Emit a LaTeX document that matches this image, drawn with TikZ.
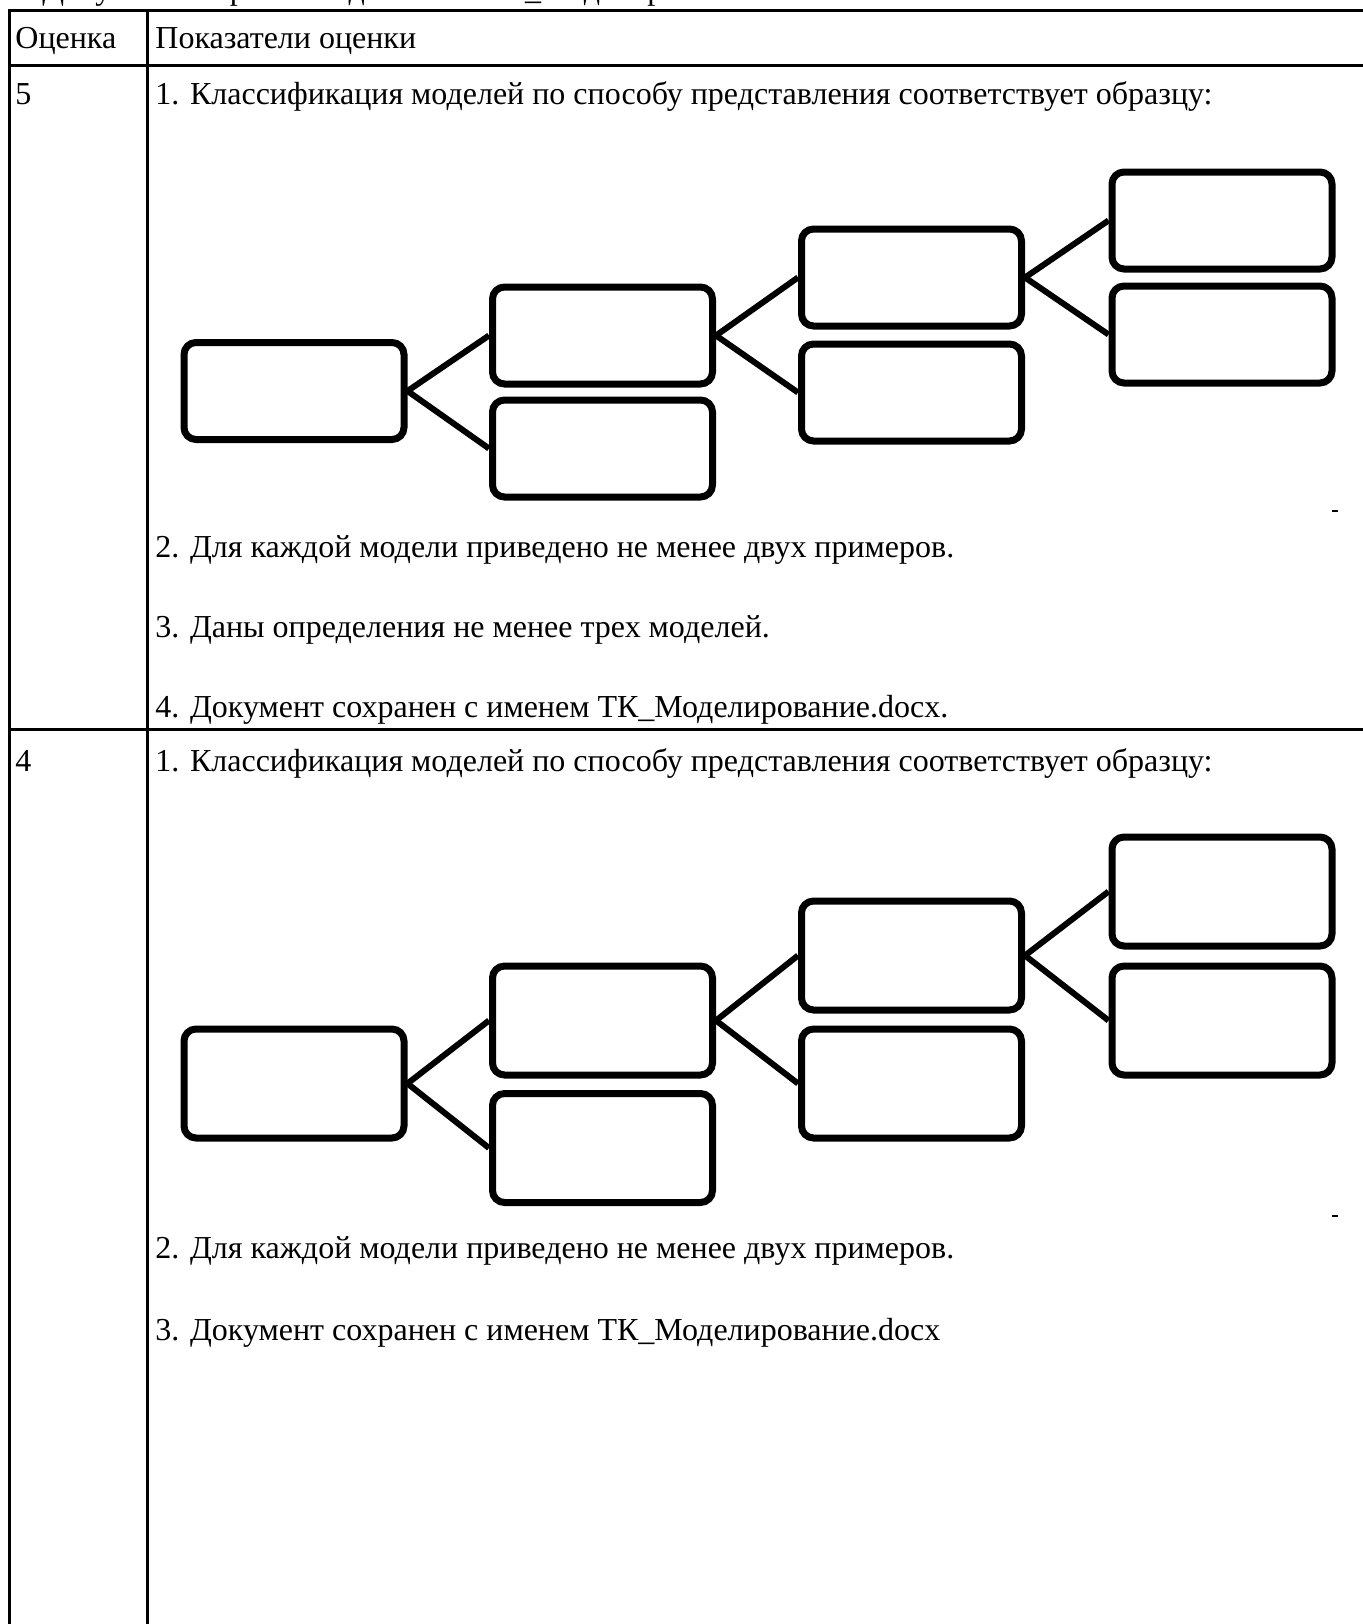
\documentclass[tikz,border=0pt]{standalone}
\usepackage{fontspec}
\setmainfont{Liberation Serif}
\begin{document}
\begin{tikzpicture}[x=0.5pt,y=-0.5pt,
  tline/.style={line width=1.5pt, line cap=rect},
  txt/.style={anchor=base west, inner sep=0pt, font=\fontsize{16pt}{19pt}\selectfont},
  mybox/.style={draw, line width=3.5pt, rounded corners=6pt, minimum width=110pt, minimum height=48.5pt, inner sep=0pt},
  mybox2/.style={mybox, minimum height=54.5pt},
  conn/.style={line width=3pt}]
\useasboundingbox (0,0) rectangle (1362,1624);
% clipped line above the table
\node[txt] (above) at (42,-1) {Документ сохранен под именем ТК\_Моделирование.docx};
% table rules
\coordinate (tl) at (9,10);
\coordinate (tr) at (1372,10);
\coordinate (hl) at (9,65);
\coordinate (hr) at (1372,65);
\coordinate (rl) at (9,729);
\coordinate (rr) at (1372,729);
\coordinate (bl) at (9,1634);
\coordinate (ct) at (147,10);
\coordinate (cb) at (147,1634);
\draw[tline] (tl) -- (tr);
\draw[tline] (hl) -- (hr);
\draw[tline] (rl) -- (rr);
\draw[tline] (tl) -- (bl);
\draw[tline] (ct) -- (cb);
% header
\node[txt] (h1) at (15,48) {Оценка};
\node[txt] (h2) at (155,48) {Показатели оценки};
% row 5
\node[txt] (g5) at (15,104) {5};
\node[txt] (a1) at (155,104) {1. Классификация моделей по способу представления соответствует образцу:};
\node[txt] (a2) at (155,557) {2. Для каждой модели приведено не менее двух примеров.};
\node[txt] (a3) at (155,637) {3. Даны определения не менее трех моделей.};
\node[txt] (a4) at (155,717) {4. Документ сохранен с именем ТК\_Моделирование.docx.};
% diagram 1
\node[mybox] (R1) at (294,391) {};
\node[mybox] (A1) at (602.5,335.5) {};
\node[mybox] (B1) at (602.5,448.5) {};
\node[mybox] (C1) at (911.5,277.5) {};
\node[mybox] (D1) at (911.5,392.5) {};
\node[mybox] (E1) at (1222,220.5) {};
\node[mybox] (F1) at (1222,334.5) {};
\draw[conn] (R1.east) -- (A1.west);
\draw[conn] (R1.east) -- (B1.west);
\draw[conn] (A1.east) -- (C1.west);
\draw[conn] (A1.east) -- (D1.west);
\draw[conn] (C1.east) -- (E1.west);
\draw[conn] (C1.east) -- (F1.west);
\fill (1332,510) rectangle (1338,512);
% row 4
\node[txt] (g4) at (15,771) {4};
\node[txt] (b1) at (155,771) {1. Классификация моделей по способу представления соответствует образцу:};
\node[txt] (b2) at (155,1258) {2. Для каждой модели приведено не менее двух примеров.};
\node[txt] (b3) at (155,1340) {3. Документ сохранен с именем ТК\_Моделирование.docx};
% diagram 2
\node[mybox2] (R2) at (294,1083.5) {};
\node[mybox2] (A2) at (602.5,1020.5) {};
\node[mybox2] (B2) at (602.5,1148) {};
\node[mybox2] (C2) at (911.5,955.5) {};
\node[mybox2] (D2) at (911.5,1083.5) {};
\node[mybox2] (E2) at (1222,891.5) {};
\node[mybox2] (F2) at (1222,1020.5) {};
\draw[conn] (R2.east) -- (A2.west);
\draw[conn] (R2.east) -- (B2.west);
\draw[conn] (A2.east) -- (C2.west);
\draw[conn] (A2.east) -- (D2.west);
\draw[conn] (C2.east) -- (E2.west);
\draw[conn] (C2.east) -- (F2.west);
\fill (1332,1215) rectangle (1338,1217);
\end{tikzpicture}
\end{document}
